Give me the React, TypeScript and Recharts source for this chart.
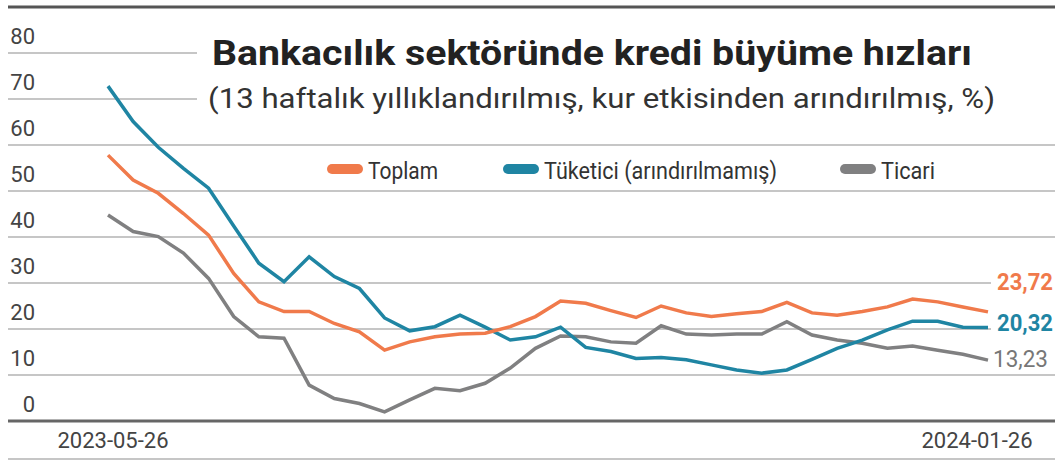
import React from "react";
import { LineChart, Line, XAxis, YAxis, CartesianGrid } from "recharts";

const dates = [
  "2023-05-26", "2023-06-02", "2023-06-09", "2023-06-16", "2023-06-23", "2023-06-30",
  "2023-07-07", "2023-07-14", "2023-07-21", "2023-07-28", "2023-08-04", "2023-08-11",
  "2023-08-18", "2023-08-25", "2023-09-01", "2023-09-08", "2023-09-15", "2023-09-22",
  "2023-09-29", "2023-10-06", "2023-10-13", "2023-10-20", "2023-10-27", "2023-11-03",
  "2023-11-10", "2023-11-17", "2023-11-24", "2023-12-01", "2023-12-08", "2023-12-15",
  "2023-12-22", "2023-12-29", "2024-01-05", "2024-01-12", "2024-01-19", "2024-01-26",
];

const toplam = [
  57.8, 52.4, 49.5, 45.1, 40.4, 32.1, 25.9, 23.8, 23.8, 21.2, 19.4, 15.4,
  17.2, 18.3, 18.9, 19.1, 20.5, 22.7, 26.1, 25.6, 24.0, 22.5, 25.0, 23.5,
  22.7, 23.3, 23.8, 25.8, 23.5, 23.0, 23.8, 24.8, 26.5, 25.9, 24.8, 23.72,
];

const tuketici = [
  72.8, 65.1, 59.5, 54.9, 50.6, 42.4, 34.3, 30.3, 35.7, 31.4, 28.8, 22.4,
  19.6, 20.5, 23.0, 20.4, 17.6, 18.3, 20.4, 16.0, 15.1, 13.6, 13.8, 13.3,
  12.2, 11.1, 10.4, 11.1, 13.4, 15.8, 17.6, 19.8, 21.7, 21.7, 20.4, 20.32,
];

const ticari = [
  44.8, 41.2, 40.1, 36.5, 31.0, 22.7, 18.3, 18.0, 7.8, 4.9, 3.8, 2.0,
  4.6, 7.1, 6.6, 8.2, 11.5, 15.8, 18.5, 18.3, 17.2, 16.9, 20.7, 18.9,
  18.7, 18.9, 18.9, 21.6, 18.7, 17.6, 16.9, 15.8, 16.3, 15.4, 14.5, 13.23,
];

const yTicks = [0, 10, 20, 30, 40, 50, 60, 70, 80];

const ORANGE = "#F07A4B";
const BLUE = "#1F85A3";
const GRAY = "#808081";
const FONT = "Roboto, 'Noto Sans', sans-serif";

const data = dates.map((date, i) => ({
  date,
  toplam: toplam[i],
  tuketici: tuketici[i],
  ticari: ticari[i],
}));

const last = dates.length - 1;
const fmt = (v: number) => v.toFixed(2).replace(".", ",");

// end-of-line value label, drawn through the dot renderer so it sits on the last point
function endLabel(color: string, dy: number, bold: boolean, mask: boolean, dx = 9) {
  return (props: any) => {
    const { cx, cy, index, value } = props;
    if (index !== last) return <g key={`d-${color}-${index}`} />;
    return (
      <g key={`d-${color}-${index}`}>
        {mask && <rect x={cx + 3} y={cy + dy - 12} width={70} height={24} fill="#fff" />}
        <text
          x={cx + dx}
          y={cy + dy}
          dy="0.35em"
          fill={color}
          fontSize={23}
          fontWeight={bold ? 700 : 400}
          fontFamily={FONT}
          textLength={bold ? 56 : 55}
          lengthAdjust="spacingAndGlyphs"
        >
          {fmt(Array.isArray(value) ? value[1] : value)}
        </text>
      </g>
    );
  };
}

const YTick = (props: any) => {
  const { y, payload } = props;
  return (
    <text x={35} y={y - 17} dy="0.35em" textAnchor="end" fill="#444" fontSize={22} fontFamily={FONT}>
      {payload.value}
    </text>
  );
};

const XTick = (props: any) => {
  const { x, y, payload, index } = props;
  if (index !== 0 && index !== last) return <g />;
  return (
    <text x={index === 0 ? x + 5 : x - 11} y={y + 19} dy="0.35em" textAnchor="middle" fill="#444" fontSize={22} fontFamily={FONT}>
      {payload.value}
    </text>
  );
};

const legendItems = [
  { name: "Toplam", color: ORANGE, x: 327, w: 70 },
  { name: "Tüketici (arındırılmamış)", color: BLUE, x: 503, w: 233 },
  { name: "Ticari", color: GRAY, x: 840, w: 54 },
];

export default function App() {
  return (
    <div style={{ position: "absolute", left: 0, top: 0, width: 1055, height: 461, background: "#fff" }}>
      <LineChart width={1055} height={461} data={data} margin={{ top: 53, right: 0, bottom: 0, left: 7 }}>
        <CartesianGrid vertical={false} stroke="#c6c6c6" strokeWidth={2} />
        <YAxis
          domain={[0, 80]}
          ticks={yTicks}
          width={1}
          axisLine={false}
          tickLine={false}
          tick={<YTick />}
          interval={0}
        />
        <XAxis
          dataKey="date"
          padding={{ left: 100, right: 67 }}
          height={40}
          interval={0}
          tickSize={0}
          tickMargin={0}
          axisLine={{ stroke: "#666", strokeWidth: 3 }}
          tickLine={false}
          tick={<XTick />}
        />
        <Line
          dataKey="ticari"
          name="Ticari"
          stroke={GRAY}
          strokeWidth={3.5}
          dot={endLabel("#777", -1, false, false, 5)}
          activeDot={false}
          isAnimationActive={false}
        />
        <Line
          dataKey="tuketici"
          name="Tüketici (arındırılmamış)"
          stroke={BLUE}
          strokeWidth={3.5}
          dot={endLabel(BLUE, -5, true, true)}
          activeDot={false}
          isAnimationActive={false}
        />
        <Line
          dataKey="toplam"
          name="Toplam"
          stroke={ORANGE}
          strokeWidth={3.5}
          dot={endLabel(ORANGE, -30, true, true)}
          activeDot={false}
          isAnimationActive={false}
        />
      </LineChart>
      <svg width={1055} height={461} style={{ position: "absolute", left: 0, top: 0, pointerEvents: "none" }}>
        <line x1={8} x2={1055} y1={7} y2={7} stroke="#555" strokeWidth={3} />
        <line x1={8} x2={1055} y1={459} y2={459} stroke="#c6c6c6" strokeWidth={2} />
        <rect x={197} y={22} width={858} height={100} fill="#fff" />
        <text x={212} y={65} fontSize={35} fontWeight={700} fill="#222" fontFamily={FONT} textLength={760} lengthAdjust="spacingAndGlyphs">
          Bankacılık sektöründe kredi büyüme hızları
        </text>
        <text x={208} y={108} fontSize={28} fill="#333" fontFamily={FONT} textLength={787} lengthAdjust="spacingAndGlyphs">
          (13 haftalık yıllıklandırılmış, kur etkisinden arındırılmış, %)
        </text>
        {legendItems.map((it) => (
          <g key={it.name}>
            <line x1={it.x + 5} x2={it.x + 31} y1={169} y2={169} stroke={it.color} strokeWidth={10} strokeLinecap="round" />
            <text x={it.x + 41} y={171} dy="0.35em" fontSize={23} fill="#333" fontFamily={FONT} textLength={it.w} lengthAdjust="spacingAndGlyphs">
              {it.name}
            </text>
          </g>
        ))}
      </svg>
    </div>
  );
}
